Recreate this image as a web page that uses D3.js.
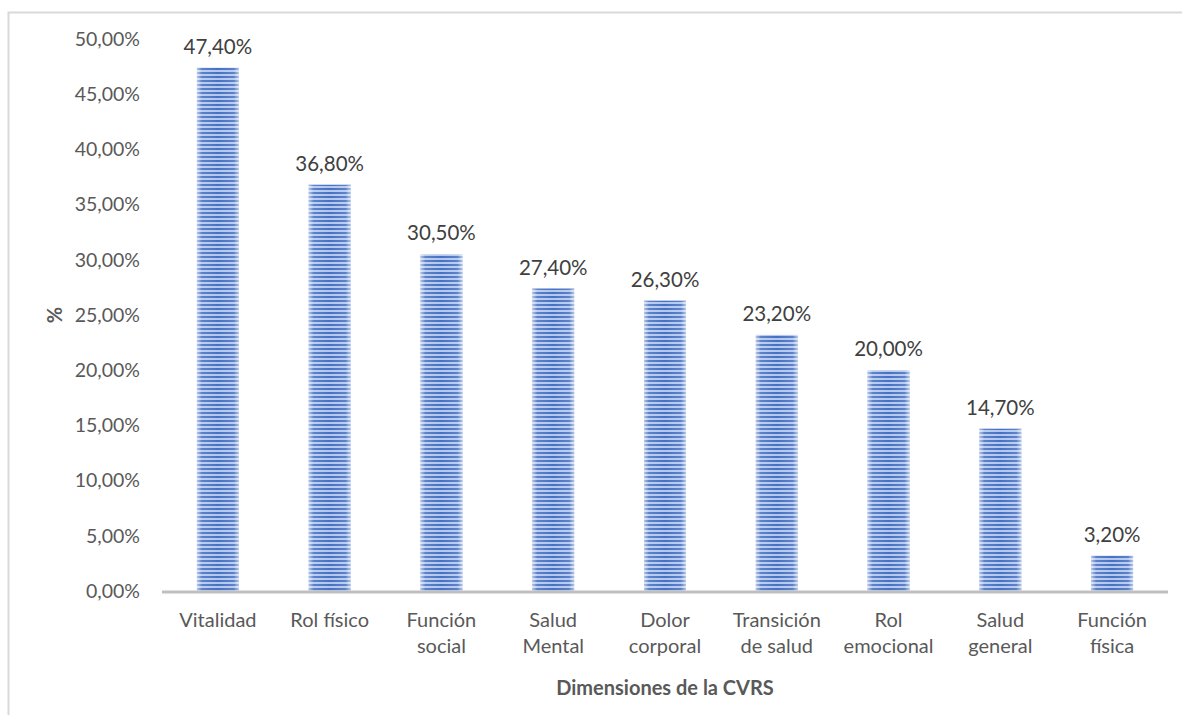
<!DOCTYPE html>
<html><head><meta charset="utf-8">
<script src="https://cdn.jsdelivr.net/npm/d3@7"></script>
<style>
body{margin:0;background:#fff;}
svg{display:block;font-family:Lato,"Open Sans",sans-serif;}
</style></head><body>
<svg id="c" width="1182" height="715"></svg>
<script>
const categories = [["Vitalidad"],["Rol físico"],["Función","social"],["Salud","Mental"],["Dolor","corporal"],["Transición","de salud"],["Rol","emocional"],["Salud","general"],["Función","física"]];
const values = [47.4, 36.8, 30.5, 27.4, 26.3, 23.2, 20.0, 14.7, 3.2];
const yTicks = [0,5,10,15,20,25,30,35,40,45,50];
const yTitle = "%";
const xTitle = "Dimensiones de la CVRS";

(function(){
const svg = d3.select("#c");
const fmt = v => d3.format(".2f")(v).replace(".", ",") + "%";

// frame
svg.append("path").attr("d","M8.5,715 V12.5 H1182").attr("fill","none").attr("stroke","#d9d9d9").attr("stroke-width",2);

const pL = 162, pR = 1168, pT = 39, pB = 591;
const x = d3.scaleBand().domain(d3.range(values.length)).range([pL,pR]).paddingInner(0.625).paddingOuter(0.3125);
const y = d3.scaleLinear().domain([0,50]).range([pB, pT]);

const defs = svg.append("defs");
const pat = defs.append("pattern").attr("id","stripe").attr("patternUnits","userSpaceOnUse").attr("width",8).attr("height",4);
pat.append("rect").attr("width",8).attr("height",4).attr("fill","#b3c7ec");
pat.append("rect").attr("width",8).attr("height",2).attr("fill","#4671c3");
const grad = defs.append("linearGradient").attr("id","edge").attr("x1","0").attr("x2","1").attr("y1","0").attr("y2","0");
[[0,0.6],[0.12,0.12],[0.5,0],[0.88,0.12],[1,0.6]].forEach(([o,a])=>grad.append("stop").attr("offset",o).attr("stop-color","#fff").attr("stop-opacity",a));

// y axis labels
const yAxis = d3.axisLeft(y).tickValues(yTicks).tickFormat(fmt).tickSize(0).tickPadding(22);
const ga = svg.append("g").attr("transform",`translate(${pL},0)`).call(yAxis);
ga.select(".domain").remove();
ga.selectAll("text").attr("fill","#595959").style("font-size","19.5px").style("font-family","Lato,sans-serif");

// bars
const bars = svg.append("g");
values.forEach((v,i)=>{
  bars.append("rect").attr("x",x(i)).attr("y",y(v)).attr("width",x.bandwidth()).attr("height",y(0)-y(v)).attr("fill","url(#stripe)");
  bars.append("rect").attr("x",x(i)).attr("y",y(v)).attr("width",x.bandwidth()).attr("height",y(0)-y(v)).attr("fill","url(#edge)");
});

// baseline
svg.append("line").attr("x1",pL).attr("x2",pR).attr("y1",pB+1).attr("y2",pB+1).attr("stroke","#bfbfbf").attr("stroke-width",3);

// data labels
svg.append("g").selectAll("text").data(values).join("text")
  .attr("x",(d,i)=>x(i)+x.bandwidth()/2).attr("y",d=>y(d)-14)
  .attr("text-anchor","middle").attr("fill","#404040").style("font-size","20.5px").text(fmt);

// category labels
const xl = d3.axisBottom(x).tickSize(0).tickFormat("");
svg.append("g").attr("transform",`translate(0,${pB})`).call(xl).select(".domain").remove();
const cg = svg.append("g");
categories.forEach((lines,i)=>{
  const t = cg.append("text").attr("x",x(i)+x.bandwidth()/2).attr("y",627).attr("text-anchor","middle").attr("fill","#595959").style("font-size","20px");
  lines.forEach((l,j)=>t.append("tspan").attr("x",x(i)+x.bandwidth()/2).attr("dy",j?26:0).text(l));
});

// axis titles
svg.append("text").attr("x",(pL+pR)/2).attr("y",695).attr("text-anchor","middle").attr("fill","#595959").style("font-size","20px").style("font-weight","bold").text(xTitle);
svg.append("text").attr("transform","translate(62,315) rotate(-90)").attr("text-anchor","middle").attr("fill","#595959").style("font-size","20px").style("font-weight","bold").text(yTitle);
})();
</script>
</body></html>
